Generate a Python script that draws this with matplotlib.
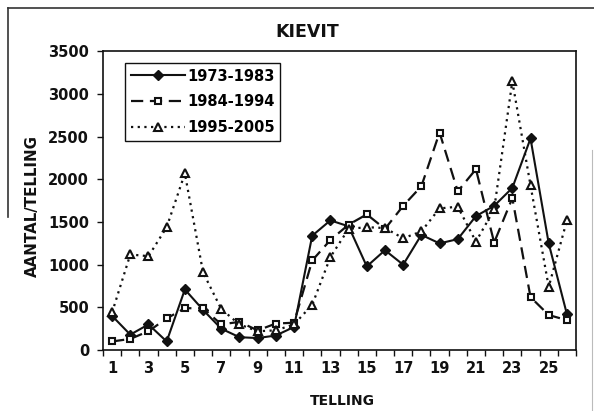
import matplotlib
matplotlib.use("Agg")
import matplotlib.pyplot as plt
import numpy as np
from matplotlib.lines import Line2D

telling = list(range(1, 27))
s1973 = [400, 180, 300, 100, 710, 470, 250, 150, 140, 170, 270, 1340, 1520, 1450, 980,
         1170, 1000, 1350, 1250, 1300, 1570, 1690, 1900, 2480, 1250, 420]
s1984 = [100, 130, 220, 370, 490, 490, 300, 330, 230, 310, 320, 1050, 1290, 1470, 1590,
         1420, 1690, 1920, 2550, 1860, 2120, 1260, 1780, 620, 410, 350]
s1995 = [440, 1120, 1100, 1440, 2070, 910, 480, 300, 220, 230, 300, 530, 1090, 1420, 1440,
         1430, 1310, 1390, 1660, 1680, 1270, 1650, 3150, 1930, 740, 1520]
labels = ["1973-1983", "1984-1994", "1995-2005"]
yticks = [0, 500, 1000, 1500, 2000, 2500, 3000, 3500]

W, H = 594, 411
fig = plt.figure(figsize=(W / 100, H / 100), dpi=100)
ax = fig.add_axes([103 / W, (H - 350) / H, 473 / W, 298.5 / H])

ink = "#111111"
ax.plot(telling, s1973, color=ink, lw=1.5, ls="-", marker="D", ms=5,
        mfc=ink, mec=ink, label=labels[0], zorder=3)
ax.plot(telling, s1984, color=ink, lw=1.6, ls=(0, (5.5, 3)), marker="s", ms=5,
        mfc="white", mec=ink, mew=1.5, label=labels[1], zorder=3)
ax.plot(telling, s1995, color=ink, lw=1.6, ls=(0, (1, 2)), marker="^", ms=5.5,
        mfc="white", mec=ink, mew=1.5, label=labels[2], zorder=3)

ax.set_xlim(0.5, 26.5)
ax.set_ylim(0, 3500)
ax.set_yticks(yticks)
ax.set_xticks(range(1, 27, 2))
ax.set_xticks(np.arange(0.5, 27, 1), minor=True)
ax.tick_params(axis="x", which="major", length=0, pad=8)
ax.tick_params(axis="x", which="minor", length=4, width=1, color=ink, direction="out")
ax.tick_params(axis="y", length=4, width=1, color=ink, direction="out", pad=6)
for lab in ax.get_xticklabels() + ax.get_yticklabels():
    lab.set_fontweight("bold")
    lab.set_fontsize(10.5)
    lab.set_color(ink)
for sp in ax.spines.values():
    sp.set_color(ink)
    sp.set_linewidth(1.2)

leg = ax.legend(loc="upper left", bbox_to_anchor=(22 / 473, (350 - 62.7) / 298.5),
                borderaxespad=0, fancybox=False, edgecolor=ink, framealpha=1,
                handlelength=3.7, handletextpad=0.15, labelspacing=0.75,
                borderpad=0.4, prop={"weight": "bold", "size": 10.5})
leg.get_frame().set_linewidth(1.0)

fig.text(307 / W, 1 - 32 / H, "KIEVIT", ha="center", va="center",
         fontsize=12.5, fontweight="bold", color=ink)
fig.text(342 / W, 1 - 401 / H, "TELLING", ha="center", va="center",
         fontsize=10, fontweight="bold", color=ink)
fig.text(32.5 / W, 1 - 206 / H, "AANTAL/TELLING", ha="center", va="center",
         rotation=90, fontsize=10.8, fontweight="bold", color=ink)

# scanned chart border
fig.add_artist(Line2D([8 / W, 1], [1 - 8 / H, 1 - 8 / H], color="#333333", lw=1.2))
fig.add_artist(Line2D([8 / W, 8 / W], [1 - 8 / H, 1 - 217 / H], color="#333333", lw=1.2))
fig.add_artist(Line2D([592 / W, 592 / W], [1 - 150 / H, 0], color="#bbbbbb", lw=0.8))

fig.savefig("out.png", dpi=100)
